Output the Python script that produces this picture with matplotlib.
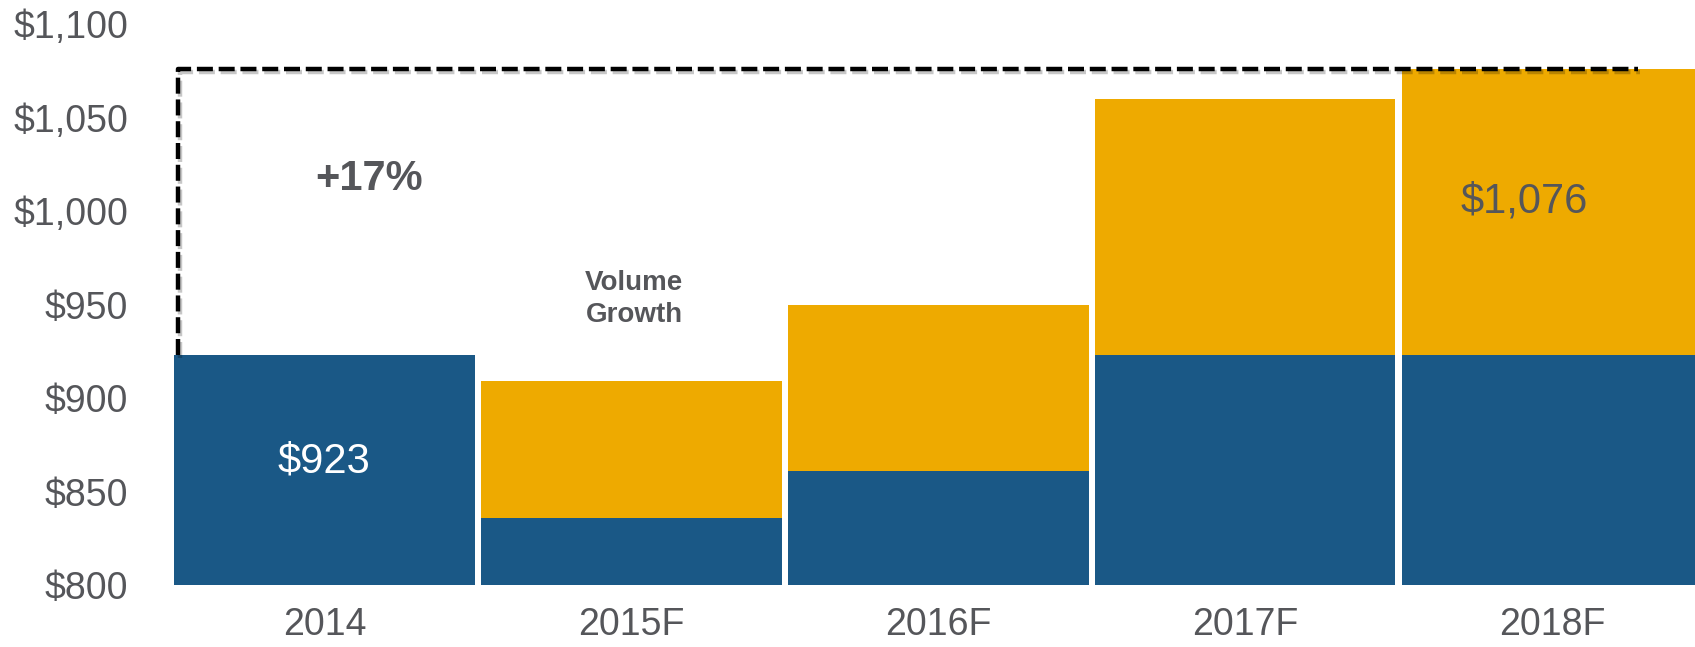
import numpy as np
import matplotlib.pyplot as plt
import matplotlib.patheffects as pe

# values ($)
years = ['2014', '2015F', '2016F', '2017F', '2018F']
base_vals = [923, 836, 861, 923, 923]
totals = [923, 909, 950, 1060, 1076]
yticks = [800, 850, 900, 950, 1000, 1050, 1100]


def main():
    plt.rcParams['font.family'] = ['Liberation Sans', 'DejaVu Sans']

    blue = '#1a5886'
    gold = '#eeaa00'
    grey = '#55565a'

    x = np.arange(len(years))
    base = np.array(base_vals)
    growth = np.array(totals) - base

    fig = plt.figure(figsize=(16.95, 6.47), dpi=100)
    ax = fig.add_axes([174 / 1695, 1 - 585 / 647, 1 - 174 / 1695, (585 - 24) / 647])

    w = 0.98
    ax.bar(x, base - 800, bottom=800, width=w, color=blue, edgecolor='none')
    ax.bar(x, growth, bottom=base, width=w, color=gold, edgecolor='none')

    # dashed bracket from 2014 up to 2018F level
    ax.plot([-0.478, -0.478, 4.28], [totals[0], totals[-1], totals[-1]],
            color='black', lw=3.2, ls=(0, (3.6, 1.3)), clip_on=False,
            path_effects=[pe.SimpleLineShadow(offset=(1.5, -2.5), alpha=0.22),
                          pe.Normal()])

    ax.text(0.147, 1017, '+17%', fontsize=30, fontweight='bold', color=grey,
            ha='center', va='center')
    ax.text(1.01, 953, 'Volume\nGrowth', fontsize=20, fontweight='bold', color=grey,
            ha='center', va='center', linespacing=1.3)
    ax.text(0, 866, '$923', fontsize=30, color='white', ha='center', va='center')
    ax.text(3.91, 1005, '$1,076', fontsize=30, color=grey, ha='center', va='center')

    ax.set_ylim(800, 1100)
    ax.set_xlim(-0.49, 4.466)
    ax.set_yticks(yticks)
    ax.set_yticklabels(['${:,}'.format(v) for v in yticks])
    ax.set_xticks(x)
    ax.set_xticklabels(years)
    ax.tick_params(axis='both', length=0, labelsize=27, labelcolor=grey)
    ax.tick_params(axis='y', pad=33)
    ax.tick_params(axis='x', pad=16)
    for s in ax.spines.values():
        s.set_visible(False)

    fig.savefig('out.png', dpi=100)
    return


if __name__ == "__main__":
    main()
